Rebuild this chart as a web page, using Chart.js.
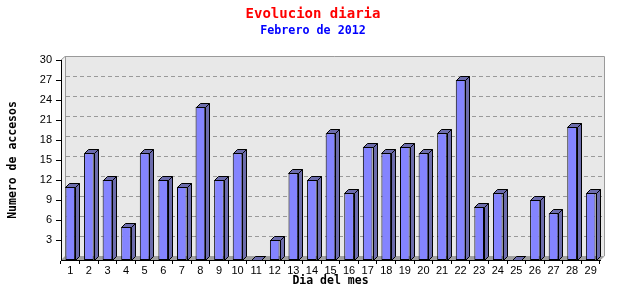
<!DOCTYPE html>
<html>
<head>
<meta charset="utf-8">
<script src="https://cdn.jsdelivr.net/npm/chart.js@4"></script>
<style>
  html, body { margin: 0; padding: 0; background: #fff; }
  #wrap { width: 640px; height: 300px; }
</style>
</head>
<body>
<div id="wrap"><canvas id="grafico"></canvas></div>
<script>
// Evolucion diaria - Febrero de 2012
const dias = ['1','2','3','4','5','6','7','8','9','10','11','12','13','14','15',
              '16','17','18','19','20','21','22','23','24','25','26','27','28','29'];
const accesos = [11,16,12,5,16,12,11,23,12,16,0,3,13,12,19,10,17,16,17,16,19,27,8,10,0,9,7,20,10];
const yTicks = [3,6,9,12,15,18,21,24,27,30];

const DEPTH = 4;
const FRONT = '#8484ff';
const SIDE = '#6c6cac';

// back wall, left wall, floor and dashed grid (drawn before the axes)
const fondo3d = {
    id: 'fondo3d',
    beforeDraw(chart) {
        const { ctx, chartArea: a, scales } = chart;
        const y = scales.y;
        const d = DEPTH;
        ctx.save();
        // back plane
        ctx.fillStyle = '#e8e8e8';
        ctx.fillRect(a.left + d, a.top - d, a.right - a.left, a.bottom - a.top);
        // left wall
        ctx.fillStyle = '#f2f2f2';
        ctx.beginPath();
        ctx.moveTo(a.left, a.top);
        ctx.lineTo(a.left + d, a.top - d);
        ctx.lineTo(a.left + d, a.bottom - d);
        ctx.lineTo(a.left, a.bottom);
        ctx.closePath();
        ctx.fill();
        // floor
        ctx.fillStyle = '#a0a0a0';
        ctx.beginPath();
        ctx.moveTo(a.left, a.bottom);
        ctx.lineTo(a.left + d, a.bottom - d);
        ctx.lineTo(a.right + d, a.bottom - d);
        ctx.lineTo(a.right, a.bottom);
        ctx.closePath();
        ctx.fill();
        // dashed grid in the back plane
        ctx.strokeStyle = '#9a9a9a';
        ctx.lineWidth = 1;
        ctx.setLineDash([4, 3]);
        yTicks.forEach(v => {
            if (v === y.max) return;
            const py = Math.round(y.getPixelForValue(v) - d) + 0.5;
            ctx.beginPath();
            ctx.moveTo(a.left + d + 1, py);
            ctx.lineTo(a.right + d, py);
            ctx.stroke();
        });
        ctx.setLineDash([]);
        // outline of the back plane
        const t = Math.round(a.top - d) + 0.5;
        const r = Math.round(a.right + d) + 0.5;
        ctx.strokeStyle = '#9a9a9a';
        ctx.beginPath();
        ctx.moveTo(a.left, a.top);
        ctx.lineTo(a.left + d, t);
        ctx.lineTo(r, t);
        ctx.lineTo(r, a.bottom - d);
        ctx.lineTo(a.right, a.bottom);
        ctx.stroke();
        ctx.beginPath();
        ctx.moveTo(a.left + d + 0.5, t);
        ctx.lineTo(a.left + d + 0.5, a.bottom - d);
        ctx.stroke();
        ctx.restore();
    }
};

// side and top faces of each bar
const barras3d = {
    id: 'barras3d',
    afterDatasetsDraw(chart) {
        const { ctx } = chart;
        const d = DEPTH;
        ctx.save();
        ctx.fillStyle = SIDE;
        ctx.strokeStyle = '#000';
        ctx.lineWidth = 1;
        chart.getDatasetMeta(0).data.forEach(bar => {
            const p = bar.getProps(['x', 'y', 'base', 'width'], true);
            const l = Math.round(p.x - p.width / 2) + 0.5;
            const r = Math.round(p.x + p.width / 2) + 0.5;
            const top = Math.round(p.y) + 0.5;
            const base = Math.round(p.base) + 0.5;
            // side
            ctx.beginPath();
            ctx.moveTo(r, top);
            ctx.lineTo(r + d, top - d);
            ctx.lineTo(r + d, base - d);
            ctx.lineTo(r, base);
            ctx.closePath();
            ctx.fill();
            ctx.stroke();
            // top
            ctx.beginPath();
            ctx.moveTo(l, top);
            ctx.lineTo(l + d, top - d);
            ctx.lineTo(r + d, top - d);
            ctx.lineTo(r, top);
            ctx.closePath();
            ctx.fill();
            ctx.stroke();
        });
        ctx.restore();
    }
};

const monoBold = { family: '"DejaVu Sans Mono", monospace', size: 11.5, weight: 'bold' };

new Chart(document.getElementById('grafico'), {
    type: 'bar',
    data: {
        labels: dias,
        datasets: [{
            label: 'Accesos',
            data: accesos,
            backgroundColor: FRONT,
            borderColor: '#000',
            borderWidth: 1,
            borderSkipped: false,
            barPercentage: 0.52,
            categoryPercentage: 1
        }]
    },
    options: {
        responsive: true,
        maintainAspectRatio: false,
        animation: false,
        layout: { padding: { left: 26, right: 40, top: 0, bottom: 0 } },
        plugins: {
            legend: { display: false },
            tooltip: { enabled: false },
            title: {
                display: true,
                text: 'Evolucion diaria',
                color: '#ff0000',
                font: { family: '"DejaVu Sans Mono", monospace', size: 14, lineHeight: '16px' },
                padding: { top: 6, bottom: 2 }
            },
            subtitle: {
                display: true,
                text: 'Febrero de 2012',
                color: '#0000ff',
                font: { family: '"DejaVu Sans Mono", monospace', size: 11.7, weight: 'bold', lineHeight: '14px' },
                padding: { top: 0, bottom: 22 }
            }
        },
        scales: {
            x: {
                grid: { offset: true, drawOnChartArea: false, color: '#000', tickLength: 4 },
                border: { color: '#000' },
                ticks: { color: '#000', padding: 0, maxRotation: 0, autoSkip: false,
                         font: { family: '"Liberation Sans", Arial', size: 11 } },
                title: { display: true, text: 'Dia del mes', color: '#000', font: monoBold,
                         padding: { top: 0, bottom: 12 } },
                afterFit(s) { s.height = 40; }
            },
            y: {
                min: 0,
                max: 30,
                afterBuildTicks(s) { s.ticks = yTicks.map(v => ({ value: v })); },
                grid: { drawOnChartArea: false, color: '#000', tickLength: 5 },
                border: { color: '#000' },
                ticks: { color: '#000', padding: 4,
                         font: { family: '"Liberation Sans", Arial', size: 11 } },
                title: { display: true, text: 'Numero de accesos', color: '#000', font: monoBold,
                         padding: { top: -20, bottom: 0 } },
                afterFit(s) { s.width = 35; }
            }
        }
    },
    plugins: [fondo3d, barras3d]
});
</script>
</body>
</html>
